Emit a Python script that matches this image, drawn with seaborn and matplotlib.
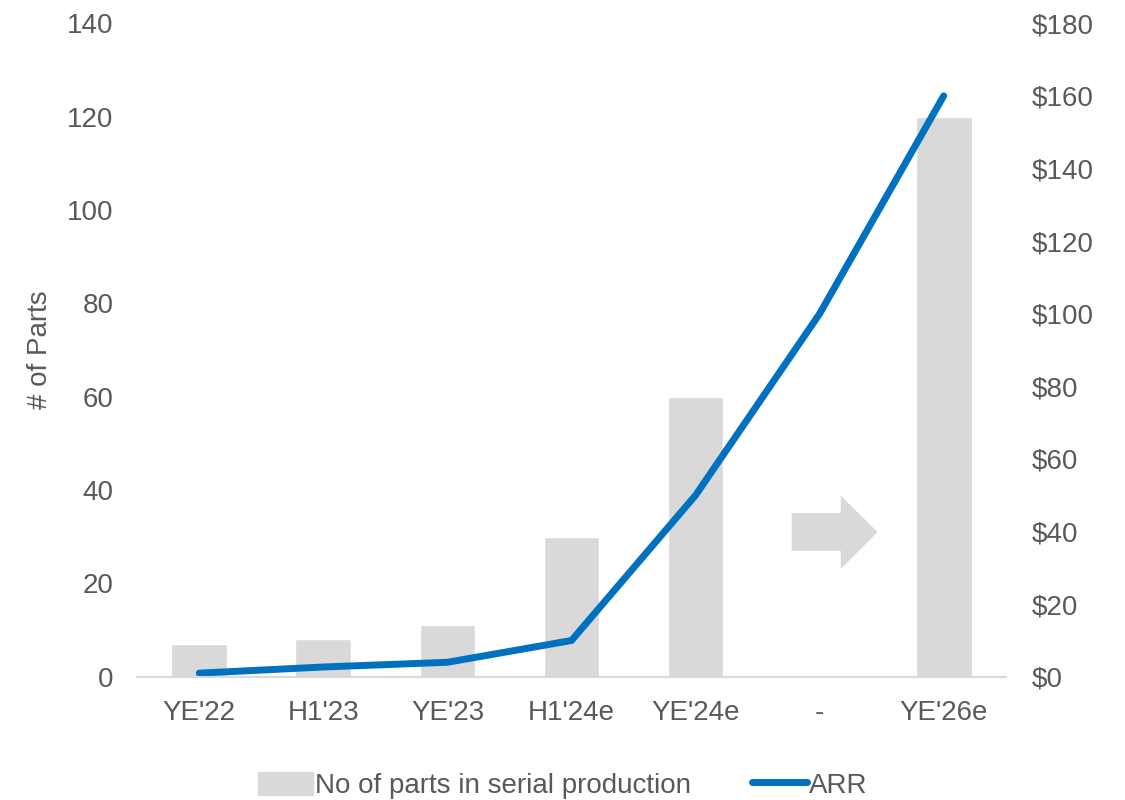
import pandas as pd
import matplotlib.pyplot as plt
import seaborn as sns
from matplotlib.patches import Polygon, Patch
from matplotlib.lines import Line2D

# Chart values
periods = ["YE'22", "H1'23", "YE'23", "H1'24e", "YE'24e", "-", "YE'26e"]
parts = [7, 8, 11, 30, 60, None, 120]
arr = [1, 2.7, 4, 10, 50, 100, 160]

df = pd.DataFrame({"Period": periods, "Parts": parts, "ARR": arr})
df["pos"] = range(len(df))

sns.set_theme(style="white")
plt.rcParams['font.family'] = ['Liberation Sans', 'DejaVu Sans']
grey_text = "#595959"
bar_color = "#D9D9D9"
line_color = "#0070C0"
fs = 20

fig = plt.figure(figsize=(11.25, 8), dpi=100)
ax = fig.add_axes([0.122, 0.154, 0.772, 0.817])

sns.barplot(x="Period", y="Parts", data=df, order=periods, color=bar_color,
            width=0.45, ax=ax, saturation=1)
ax.set_ylim(0, 140)
ax.set_yticks(range(0, 141, 20))
ax.set_xlim(-0.5, len(periods) - 0.5)
ax.set_xlabel("")
ax.set_ylabel("# of Parts", fontsize=fs, color=grey_text, labelpad=10)
ax.tick_params(axis="y", labelsize=fs, labelcolor=grey_text, length=0, pad=17)
ax.tick_params(axis="x", labelsize=fs, labelcolor=grey_text, length=0, pad=17)

# Arrow marking the gap between YE'24e and YE'26e
arrow = Polygon([(4.775, 27.0), (4.775, 35.1), (5.17, 35.1), (5.17, 38.8), (5.467, 31.0),
                 (5.17, 23.1), (5.17, 27.0)], closed=True, color=bar_color, lw=0)
ax.add_patch(arrow)

ax2 = ax.twinx()
sns.lineplot(x="pos", y="ARR", data=df, color=line_color, linewidth=5,
             ax=ax2, solid_capstyle="round")
ax2.set_ylim(0, 180)
ax2.set_yticks(range(0, 181, 20))
ax2.set_yticklabels([f"${v}" for v in range(0, 181, 20)])
ax2.set_ylabel("")
ax2.tick_params(axis="y", labelsize=fs, labelcolor=grey_text, length=0, pad=19)
ax2.set_xlim(-0.5, len(periods) - 0.5)

for a in (ax, ax2):
    for side in ("top", "left", "right"):
        a.spines[side].set_visible(False)
    a.spines["bottom"].set_color(bar_color)
    a.spines["bottom"].set_linewidth(1.5)

handles = [Patch(color=bar_color, label="No of parts in serial production"),
           Line2D([0], [0], color=line_color, lw=5, label="ARR")]
fig.legend(handles=handles, loc="lower center", ncol=2, frameon=False,
           bbox_to_anchor=(0.5, -0.03), fontsize=fs, labelcolor=grey_text,
           handlelength=2.0, handleheight=0.9, handletextpad=0.05, columnspacing=2.2)

fig.savefig("out.png", dpi=100)
